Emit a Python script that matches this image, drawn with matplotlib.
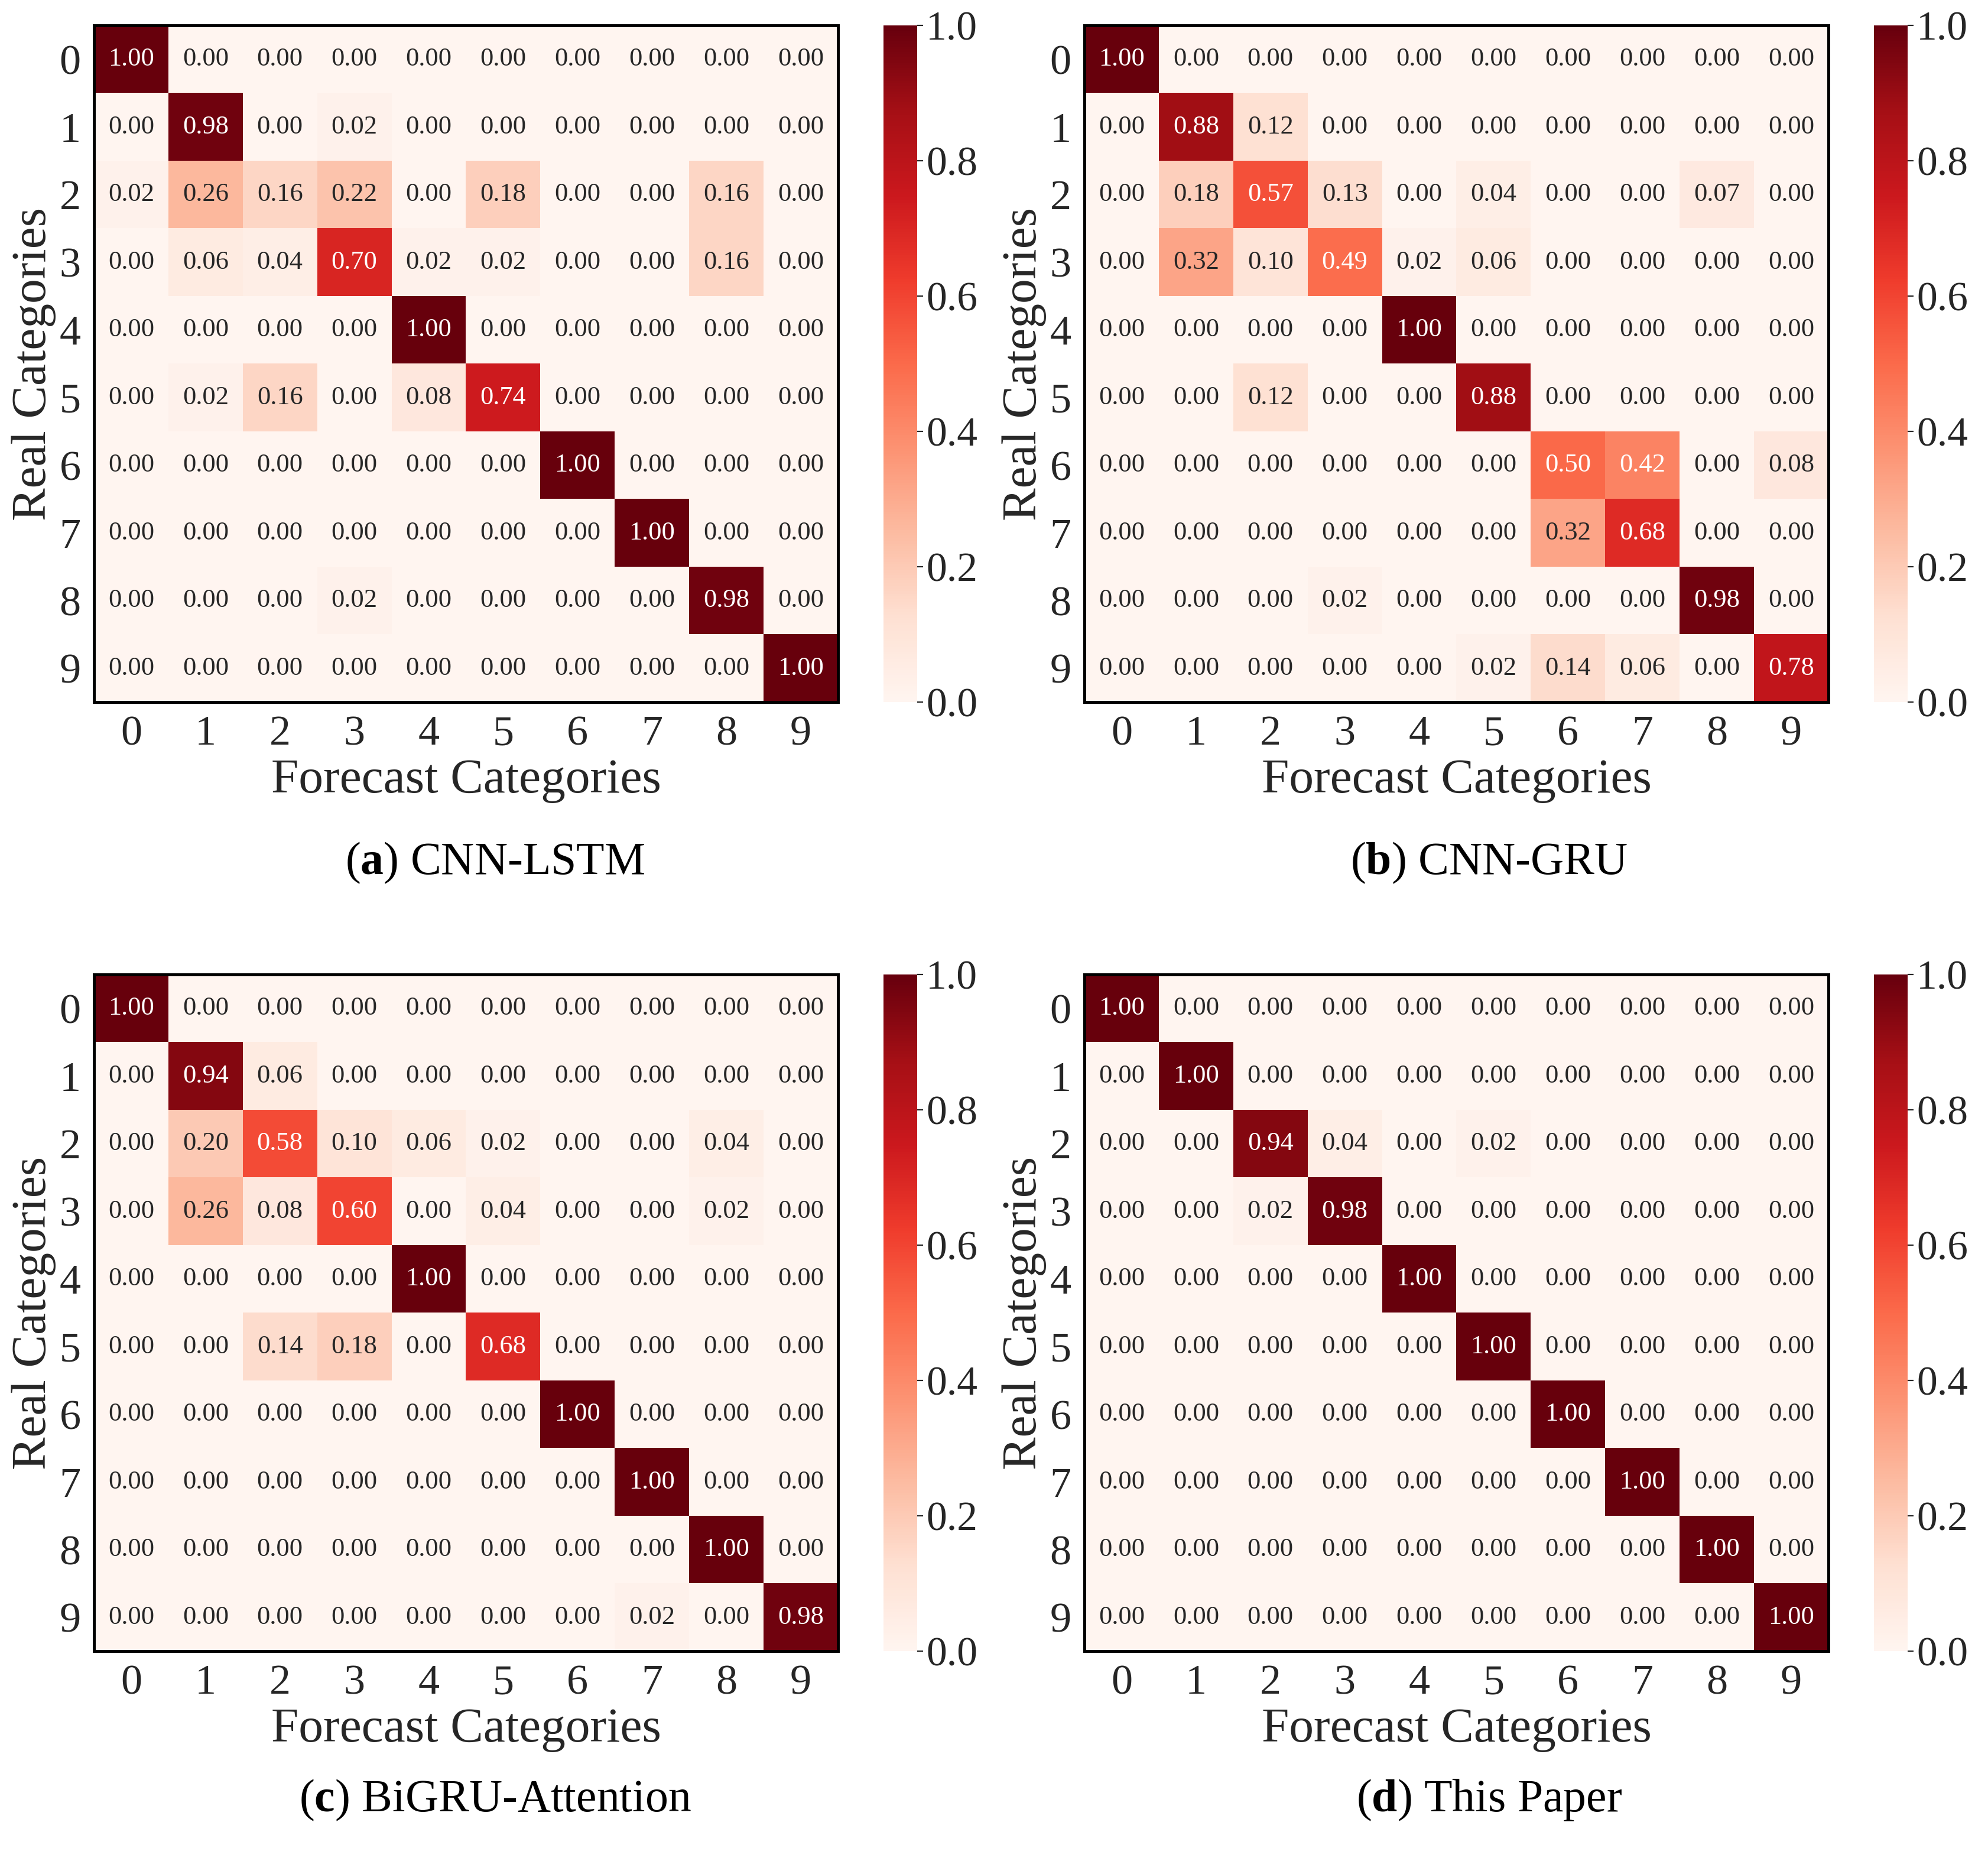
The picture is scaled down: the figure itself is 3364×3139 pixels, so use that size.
import numpy as np
import matplotlib.pyplot as plt

plt.rcParams['font.family'] = ['Liberation Serif', 'DejaVu Serif']
plt.rcParams['mathtext.fontset'] = 'custom'
plt.rcParams['mathtext.rm'] = 'Liberation Serif'
plt.rcParams['mathtext.bf'] = 'Liberation Serif:bold'

classes = ['0', '1', '2', '3', '4', '5', '6', '7', '8', '9']

cnn_lstm = [
    [1.00, 0.00, 0.00, 0.00, 0.00, 0.00, 0.00, 0.00, 0.00, 0.00],
    [0.00, 0.98, 0.00, 0.02, 0.00, 0.00, 0.00, 0.00, 0.00, 0.00],
    [0.02, 0.26, 0.16, 0.22, 0.00, 0.18, 0.00, 0.00, 0.16, 0.00],
    [0.00, 0.06, 0.04, 0.70, 0.02, 0.02, 0.00, 0.00, 0.16, 0.00],
    [0.00, 0.00, 0.00, 0.00, 1.00, 0.00, 0.00, 0.00, 0.00, 0.00],
    [0.00, 0.02, 0.16, 0.00, 0.08, 0.74, 0.00, 0.00, 0.00, 0.00],
    [0.00, 0.00, 0.00, 0.00, 0.00, 0.00, 1.00, 0.00, 0.00, 0.00],
    [0.00, 0.00, 0.00, 0.00, 0.00, 0.00, 0.00, 1.00, 0.00, 0.00],
    [0.00, 0.00, 0.00, 0.02, 0.00, 0.00, 0.00, 0.00, 0.98, 0.00],
    [0.00, 0.00, 0.00, 0.00, 0.00, 0.00, 0.00, 0.00, 0.00, 1.00],
]

cnn_gru = [
    [1.00, 0.00, 0.00, 0.00, 0.00, 0.00, 0.00, 0.00, 0.00, 0.00],
    [0.00, 0.88, 0.12, 0.00, 0.00, 0.00, 0.00, 0.00, 0.00, 0.00],
    [0.00, 0.18, 0.57, 0.13, 0.00, 0.04, 0.00, 0.00, 0.07, 0.00],
    [0.00, 0.32, 0.10, 0.49, 0.02, 0.06, 0.00, 0.00, 0.00, 0.00],
    [0.00, 0.00, 0.00, 0.00, 1.00, 0.00, 0.00, 0.00, 0.00, 0.00],
    [0.00, 0.00, 0.12, 0.00, 0.00, 0.88, 0.00, 0.00, 0.00, 0.00],
    [0.00, 0.00, 0.00, 0.00, 0.00, 0.00, 0.50, 0.42, 0.00, 0.08],
    [0.00, 0.00, 0.00, 0.00, 0.00, 0.00, 0.32, 0.68, 0.00, 0.00],
    [0.00, 0.00, 0.00, 0.02, 0.00, 0.00, 0.00, 0.00, 0.98, 0.00],
    [0.00, 0.00, 0.00, 0.00, 0.00, 0.02, 0.14, 0.06, 0.00, 0.78],
]

bigru_att = [
    [1.00, 0.00, 0.00, 0.00, 0.00, 0.00, 0.00, 0.00, 0.00, 0.00],
    [0.00, 0.94, 0.06, 0.00, 0.00, 0.00, 0.00, 0.00, 0.00, 0.00],
    [0.00, 0.20, 0.58, 0.10, 0.06, 0.02, 0.00, 0.00, 0.04, 0.00],
    [0.00, 0.26, 0.08, 0.60, 0.00, 0.04, 0.00, 0.00, 0.02, 0.00],
    [0.00, 0.00, 0.00, 0.00, 1.00, 0.00, 0.00, 0.00, 0.00, 0.00],
    [0.00, 0.00, 0.14, 0.18, 0.00, 0.68, 0.00, 0.00, 0.00, 0.00],
    [0.00, 0.00, 0.00, 0.00, 0.00, 0.00, 1.00, 0.00, 0.00, 0.00],
    [0.00, 0.00, 0.00, 0.00, 0.00, 0.00, 0.00, 1.00, 0.00, 0.00],
    [0.00, 0.00, 0.00, 0.00, 0.00, 0.00, 0.00, 0.00, 1.00, 0.00],
    [0.00, 0.00, 0.00, 0.00, 0.00, 0.00, 0.00, 0.02, 0.00, 0.98],
]

this_paper = [
    [1.00, 0.00, 0.00, 0.00, 0.00, 0.00, 0.00, 0.00, 0.00, 0.00],
    [0.00, 1.00, 0.00, 0.00, 0.00, 0.00, 0.00, 0.00, 0.00, 0.00],
    [0.00, 0.00, 0.94, 0.04, 0.00, 0.02, 0.00, 0.00, 0.00, 0.00],
    [0.00, 0.00, 0.02, 0.98, 0.00, 0.00, 0.00, 0.00, 0.00, 0.00],
    [0.00, 0.00, 0.00, 0.00, 1.00, 0.00, 0.00, 0.00, 0.00, 0.00],
    [0.00, 0.00, 0.00, 0.00, 0.00, 1.00, 0.00, 0.00, 0.00, 0.00],
    [0.00, 0.00, 0.00, 0.00, 0.00, 0.00, 1.00, 0.00, 0.00, 0.00],
    [0.00, 0.00, 0.00, 0.00, 0.00, 0.00, 0.00, 1.00, 0.00, 0.00],
    [0.00, 0.00, 0.00, 0.00, 0.00, 0.00, 0.00, 0.00, 1.00, 0.00],
    [0.00, 0.00, 0.00, 0.00, 0.00, 0.00, 0.00, 0.00, 0.00, 1.00],
]

panels = [
    (cnn_lstm, 'a', 'CNN-LSTM'),
    (cnn_gru, 'b', 'CNN-GRU'),
    (bigru_att, 'c', 'BiGRU-Attention'),
    (this_paper, 'd', 'This Paper'),
]

W, H = 3364, 3139
fig = plt.figure(figsize=(W / 200, H / 200), dpi=200)
txt = '#262626'

# pixel layout: (axes left, axes top) per panel
lefts = [159, 1835, 159, 1835]
tops = [43, 43, 1649, 1649]
aw, ah = 1259, 1145
cb_off, cb_w = 77, 57
cap_x = [838, 2520, 838, 2520]
cap_y = [1460, 1460, 3046, 3046]

for k, (mat, letter, name) in enumerate(panels):
    m = np.array(mat)
    ax = fig.add_axes([lefts[k] / W, 1 - (tops[k] + ah) / H, aw / W, ah / H])
    im = ax.imshow(m, cmap='Reds', vmin=0, vmax=1, aspect='auto', interpolation='nearest')
    for i in range(10):
        for j in range(10):
            v = m[i, j]
            ax.text(j, i, '%.2f' % v, ha='center', va='center', fontsize=16,
                    color='white' if v > 0.4 else txt)
    ax.set_xticks(range(10))
    ax.set_yticks(range(10))
    ax.set_xticklabels(classes)
    ax.set_yticklabels(classes)
    ax.tick_params(length=0, labelsize=26, colors=txt, pad=8)
    ax.set_xlabel('Forecast Categories', fontsize=30, color=txt, labelpad=3)
    ax.set_ylabel('Real Categories', fontsize=30, color=txt, labelpad=2)
    for s in ax.spines.values():
        s.set_linewidth(1.8)
        s.set_color('black')

    cax = fig.add_axes([(lefts[k] + aw + cb_off) / W, 1 - (tops[k] + ah) / H, cb_w / W, ah / H])
    cb = fig.colorbar(im, cax=cax, ticks=[0, 0.2, 0.4, 0.6, 0.8, 1.0])
    cb.ax.set_yticklabels(['0.0', '0.2', '0.4', '0.6', '0.8', '1.0'])
    cb.outline.set_visible(False)
    cb.ax.tick_params(labelsize=25, colors=txt, length=3.5, width=0.8, pad=2)

    fig.text(cap_x[k] / W, 1 - cap_y[k] / H, r'($\mathbf{%s}$) %s' % (letter, name),
             ha='center', va='center', fontsize=28, color='black')

fig.savefig('out.png', dpi=200)
